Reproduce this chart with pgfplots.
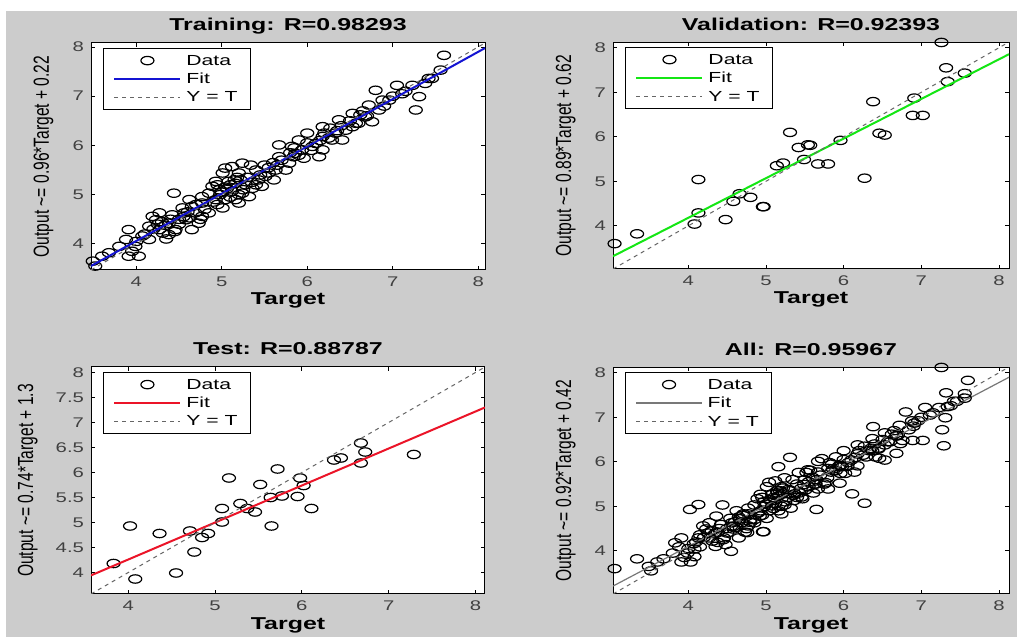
\documentclass[border=0pt]{standalone}
\usepackage{fontspec}
\setmainfont{Liberation Sans}[FakeStretch=1.45]
\newfontfamily\ylfont{Liberation Sans}
\usepackage{graphicx}
\usepackage{pgfplots}
\pgfplotsset{compat=1.18}
\usepackage{pgfplotstable}
\definecolor{figbg}{RGB}{204,204,204}
\definecolor{fitblue}{RGB}{20,20,210}
\definecolor{fitgreen}{RGB}{20,230,20}
\definecolor{fitred}{RGB}{235,20,40}
\definecolor{fitgray}{RGB}{120,120,120}

\pgfplotstableread{
x y
7.60 7.83
7.56 7.53
7.46 7.36
7.23 7.22
7.31 6.99
7.27 6.72
7.05 7.22
6.80 7.12
6.88 6.92
6.72 6.82
6.76 6.48
6.62 6.62
6.53 6.65
6.37 6.52
6.53 6.38
6.27 6.35
6.33 6.25
6.18 6.38
6.18 6.18
6.10 6.04
6.00 6.25
5.90 6.11
5.82 5.98
5.67 6.01
6.14 5.77
5.96 5.74
5.84 5.77
5.79 5.64
5.63 5.50
5.61 5.30
5.51 5.37
5.34 5.60
5.43 5.30
5.20 5.44
5.01 5.44
4.93 5.27
5.08 5.27
5.16 5.23
5.28 5.20
4.97 5.10
4.85 5.03
5.12 5.07
5.24 5.03
5.32 4.96
5.04 4.90
5.16 4.90
5.01 4.73
5.20 4.83
4.93 4.90
4.77 4.83
4.65 4.76
4.54 4.73
4.44 5.03
4.56 4.63
4.42 4.59
4.27 4.63
4.23 4.49
4.38 4.42
4.46 4.29
4.38 4.19
4.27 4.29
4.15 4.36
4.65 4.29
4.77 4.56
4.85 4.63
4.07 4.16
3.91 4.29
3.88 4.09
3.99 3.95
3.91 3.75
4.03 3.75
3.60 3.75
3.49 3.65
3.52 3.55
4.58 4.49
4.73 4.42
4.31 4.22
4.19 4.56
4.62 4.90
4.77 4.96
4.69 4.63
5.40 5.50
5.55 5.44
5.75 5.50
5.86 5.84
6.06 5.98
6.29 6.11
6.45 6.31
6.68 6.58
6.96 6.92
7.11 7.05
7.38 7.26
7.42 7.36
5.12 5.57
4.89 5.17
5.04 5.54
4.62 4.53
4.15 4.09
3.68 3.82
3.80 3.95
5.67 5.77
5.94 5.91
6.57 6.45
6.84 6.72
6.41 6.11
6.18 5.91
5.47 5.17
5.24 5.64
5.36 5.13
5.10 5.20
5.18 5.35
5.06 5.12
4.98 5.00
5.22 5.30
4.50 4.50
4.34 4.38
5.05 5.15
5.15 5.30
5.25 5.10
4.95 5.20
5.30 5.35
5.10 4.95
5.20 5.00
5.00 5.05
5.35 5.25
4.90 4.85
4.80 4.70
4.70 4.80
4.60 4.65
4.50 4.40
4.40 4.50
4.30 4.45
4.20 4.30
4.10 4.20
4.00 4.05
3.95 3.85
4.45 4.25
4.55 4.55
4.35 4.10
4.25 4.40
5.45 5.40
5.55 5.55
5.65 5.60
5.70 5.70
5.80 5.85
5.90 5.80
6.00 6.05
6.05 5.90
6.15 6.10
6.20 6.25
6.25 6.15
6.35 6.30
6.40 6.40
6.50 6.50
6.60 6.45
6.65 6.70
6.70 6.60
6.90 6.80
7.00 7.00
7.15 7.10
5.85 5.95
5.60 5.65
5.50 5.60
4.75 4.50
4.95 4.80
5.40 5.20
}\trainT

\pgfplotstableread{
x y
3.05 3.60
3.34 3.82
4.13 5.04
4.13 4.29
4.08 4.04
4.48 4.14
4.58 4.55
4.66 4.72
4.80 4.64
4.96 4.43
4.97 4.43
5.14 5.35
5.22 5.41
5.31 6.10
5.42 5.76
5.57 5.81
5.54 5.82
5.49 5.49
5.67 5.39
5.80 5.39
5.96 5.92
6.27 5.07
6.38 6.79
6.46 6.08
6.53 6.04
6.91 6.87
6.89 6.48
7.02 6.48
7.26 8.12
7.32 7.55
7.34 7.24
7.56 7.43
}\valT

\pgfplotstableread{
x y
3.83 4.18
4.08 3.87
4.02 4.93
4.36 4.78
4.55 3.99
4.76 4.41
4.71 4.83
4.85 4.70
4.92 4.78
5.08 5.01
5.08 5.28
5.16 5.89
5.29 5.38
5.37 5.28
5.46 5.21
5.52 5.76
5.65 4.93
5.64 5.50
5.77 5.53
5.72 6.07
5.95 5.52
5.98 5.89
6.02 5.74
6.11 5.28
6.37 6.25
6.45 6.29
6.68 6.59
6.68 6.19
6.73 6.41
7.29 6.36
}\testT

\pgfplotsset{
  regr/.style={
    scale only axis, height=113.5pt, anchor=south west,
    axis background/.style={fill=white},
    axis line style={line width=0.5pt, black},
    tick align=inside, major tick length=2pt,
    every tick/.style={black, line width=0.4pt},
    tick label style={font=\fontsize{7}{8}\selectfont, text=black!75},
    /pgf/number format/assume math mode=true,
    xtick={4,5,6,7,8},
    xlabel={Target},
    xlabel style={at={(axis description cs:0.5,0)}, anchor=base, yshift=-17.5pt,
      font=\fontsize{8.6}{10}\selectfont\bfseries},
    every axis title shift=0pt,
    title style={at={(axis description cs:0.5,1)}, anchor=base, yshift=6pt,
      font=\fontsize{8.6}{10}\selectfont\bfseries},
    clip mode=individual,
    legend style={at={(axis description cs:0.0305,0.978)}, anchor=north west,
      draw=black, fill=white, font=\fontsize{7.3}{8}\selectfont,
      inner xsep=5pt, inner ysep=1.5pt,
      nodes={inner sep=1.5pt, text height=5.4pt, text depth=0.8pt},
      column sep=1pt},
    legend cell align=left,
  },
  datapl/.style={only marks, mark=o, mark size=2.1pt,
    mark options={xscale=1.55, line width=0.6pt, black},
    legend image code/.code={\draw[##1] plot coordinates {(16.5pt,0pt)};}},
  fitpl/.style={line width=1pt, #1,
    legend image code/.code={\draw[##1] (0pt,0pt) -- (33pt,0pt);}},
  ytpl/.style={line width=0.5pt, black!60, dash pattern=on 2pt off 2pt,
    legend image code/.code={\draw[##1] (0pt,0pt) -- (33pt,0pt);}},
}

\newcommand{\yl}[1]{\scalebox{1}[1.4]{\ylfont\fontsize{7.8}{9}\selectfont #1}}

\begin{document}
\begin{tikzpicture}
\path[use as bounding box] (0pt,0pt) rectangle (508.5pt,318.5pt);
\fill[white] (0pt,0pt) rectangle (508.5pt,318.5pt);
\fill[figbg] (3pt,0pt) rectangle (508.5pt,313pt);

% Training
\begin{axis}[regr, at={(45.5pt,183.5pt)}, width=197pt,
  xmin=3.47, xmax=8.08, ymin=3.47, ymax=8.08, ytick={4,5,6,7,8},
  title={Training: R=0.98293},
  ylabel={\yl{Output \textasciitilde= 0.96*Target + 0.22}},
  ylabel style={at={(axis description cs:-0.1066,0.5)}, anchor=base}]
\addplot[datapl] table {\trainT};
\addlegendentry{Data}
\addplot[fitpl=fitblue] coordinates {(3.47,3.551) (8.08,7.977)};
\addlegendentry{Fit}
\addplot[ytpl] coordinates {(3.47,3.47) (8.08,8.08)};
\addlegendentry{Y = T}
\end{axis}

% Validation
\begin{axis}[regr, at={(306.5pt,184pt)}, width=198pt,
  xmin=3.03, xmax=8.13, ymin=3.03, ymax=8.13, ytick={4,5,6,7,8},
  title={Validation: R=0.92393},
  ylabel={\yl{Output \textasciitilde= 0.89*Target + 0.62}},
  ylabel style={at={(axis description cs:-0.106,0.5)}, anchor=base}]
\addplot[datapl] table {\valT};
\addlegendentry{Data}
\addplot[fitpl=fitgreen] coordinates {(3.03,3.317) (8.13,7.856)};
\addlegendentry{Fit}
\addplot[ytpl] coordinates {(3.03,3.03) (8.13,8.13)};
\addlegendentry{Y = T}
\end{axis}

% Test
\begin{axis}[regr, at={(45.5pt,21.5pt)}, width=197pt,
  xmin=3.57, xmax=8.11, ymin=3.57, ymax=8.11, ytick={4,4.5,5,5.5,6,6.5,7,7.5,8},
  title={Test: R=0.88787},
  ylabel={\yl{Output \textasciitilde= 0.74*Target + 1.3}},
  ylabel style={at={(axis description cs:-0.147,0.5)}, anchor=base}]
\addplot[datapl] table {\testT};
\addlegendentry{Data}
\addplot[fitpl=fitred] coordinates {(3.57,3.942) (8.11,7.301)};
\addlegendentry{Fit}
\addplot[ytpl] coordinates {(3.57,3.57) (8.11,8.11)};
\addlegendentry{Y = T}
\end{axis}

% All
\begin{axis}[regr, at={(306.5pt,21.5pt)}, width=198pt,
  xmin=3.03, xmax=8.13, ymin=3.03, ymax=8.13, ytick={4,5,6,7,8},
  title={All: R=0.95967},
  ylabel={\yl{Output \textasciitilde= 0.92*Target + 0.42}},
  ylabel style={at={(axis description cs:-0.106,0.5)}, anchor=base}]
\addplot[datapl] table {\trainT};
\addlegendentry{Data}
\addplot[fitpl=fitgray, line width=0.6pt] coordinates {(3.03,3.208) (8.13,7.900)};
\addlegendentry{Fit}
\addplot[ytpl] coordinates {(3.03,3.03) (8.13,8.13)};
\addlegendentry{Y = T}
\addplot[datapl, forget plot] table {\valT};
\addplot[datapl, forget plot] table {\testT};
\end{axis}
\end{tikzpicture}
\end{document}
